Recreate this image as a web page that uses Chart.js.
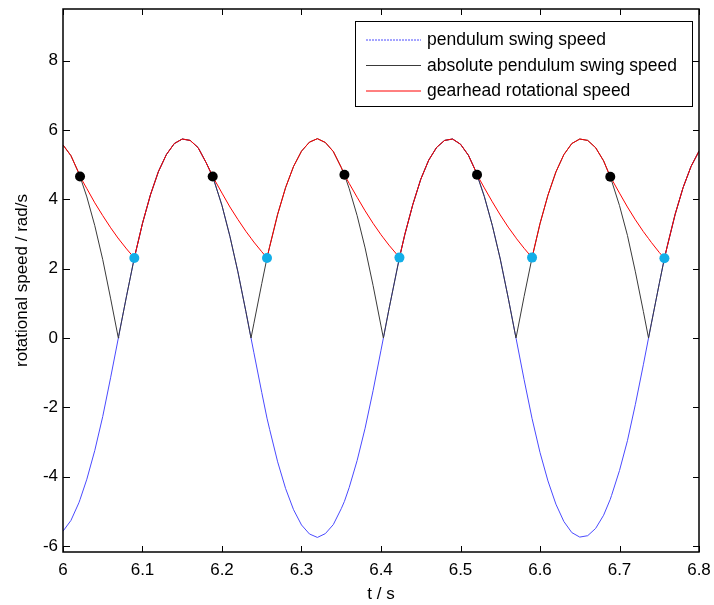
<!DOCTYPE html>
<html>
<head>
<meta charset="utf-8">
<script src="https://cdn.jsdelivr.net/npm/chart.js@4.4.1/dist/chart.umd.min.js"></script>
<style>
    body { margin: 0; background: #fff; }
    #wrap { width: 714px; height: 605px; }
</style>
</head>
<body>
<div id="wrap"><canvas id="chart" width="714" height="605"></canvas></div>
<script>
// waktu sampel (s)
var time = [
    6.00, 6.01, 6.02, 6.0214, 6.03, 6.04, 6.05, 6.06, 6.0696, 6.07, 6.08, 6.0897, 6.09,
    6.10, 6.11, 6.12, 6.13, 6.14, 6.15, 6.16, 6.17, 6.18, 6.1883, 6.19,
    6.20, 6.21, 6.22, 6.23, 6.2365, 6.24, 6.25, 6.2566, 6.26, 6.27, 6.28, 6.29,
    6.30, 6.31, 6.32, 6.33, 6.34, 6.35, 6.354, 6.36, 6.37, 6.38, 6.39,
    6.40, 6.403, 6.41, 6.42, 6.4232, 6.43, 6.44, 6.45, 6.46, 6.47, 6.48, 6.49,
    6.50, 6.51, 6.52, 6.5208, 6.53, 6.54, 6.55, 6.56, 6.5698, 6.57, 6.58, 6.59,
    6.60, 6.61, 6.62, 6.63, 6.64, 6.65, 6.66, 6.67, 6.68, 6.6884, 6.69,
    6.70, 6.71, 6.72, 6.73, 6.7365, 6.74, 6.75, 6.7565, 6.76, 6.77, 6.78, 6.79, 6.80
];

// pendulum swing speed (rad/s)
var swingSpeed = [
    -5.57, -5.26, -4.75, -4.66, -4.07, -3.24, -2.26, -1.13, 0, 0.05, 1.22, 2.31, 2.34,
    3.31, 4.13, 4.80, 5.29, 5.61, 5.74, 5.70, 5.49, 5.06, 4.66, 4.54,
    3.82, 2.93, 1.91, 0.77, 0, -0.41, -1.57, -2.31, -2.64, -3.57, -4.34, -4.95,
    -5.39, -5.65, -5.75, -5.64, -5.38, -4.92, -4.71, -4.31, -3.53, -2.60, -1.52,
    -0.35, 0, 0.83, 1.96, 2.32, 2.99, 3.85, 4.58, 5.13, 5.50, 5.70, 5.74,
    5.59, 5.27, 4.77, 4.71, 4.08, 3.25, 2.28, 1.16, 0, -0.02, -1.20, -2.32,
    -3.30, -4.12, -4.79, -5.29, -5.61, -5.74, -5.70, -5.49, -5.11, -4.65, -4.54,
    -3.82, -2.96, -1.91, -0.77, 0, 0.41, 1.57, 2.30, 2.64, 3.57, 4.34, 4.95, 5.39
];

// gearhead rotational speed (rad/s)
var gearheadSpeed = [
    5.57, 5.26, 4.75, 4.66, 4.31, 3.90, 3.53, 3.18, 2.87, 2.86, 2.57, 2.31, 2.34,
    3.31, 4.13, 4.80, 5.29, 5.61, 5.74, 5.70, 5.49, 5.06, 4.66, 4.59,
    4.18, 3.78, 3.42, 3.08, 2.88, 2.77, 2.49, 2.31, 2.64, 3.57, 4.34, 4.95,
    5.39, 5.65, 5.75, 5.64, 5.38, 4.92, 4.71, 4.46, 4.06, 3.67, 3.31,
    2.98, 2.89, 2.68, 2.41, 2.32, 2.99, 3.85, 4.58, 5.13, 5.50, 5.70, 5.74,
    5.59, 5.27, 4.77, 4.71, 4.33, 3.93, 3.55, 3.20, 2.89, 2.88, 2.59, 2.32,
    3.30, 4.12, 4.79, 5.29, 5.61, 5.74, 5.70, 5.49, 5.11, 4.65, 4.59,
    4.18, 3.78, 3.41, 3.07, 2.87, 2.76, 2.47, 2.30, 2.64, 3.57, 4.34, 4.95, 5.39
];

// titik lepas (hitam) dan titik kopel (biru muda)
var releaseTime = [6.0214, 6.1883, 6.354, 6.5208, 6.6884];
var releaseSpeed = [4.66, 4.66, 4.71, 4.71, 4.65];
var engageTime = [6.0897, 6.2566, 6.4232, 6.59, 6.7565];
var engageSpeed = [2.31, 2.31, 2.32, 2.32, 2.30];

var xTicks = [6, 6.1, 6.2, 6.3, 6.4, 6.5, 6.6, 6.7, 6.8];
var xLabels = ['6', '6.1', '6.2', '6.3', '6.4', '6.5', '6.6', '6.7', '6.8'];
var yTicks = [-6, -4, -2, 0, 2, 4, 6, 8];
var yLabels = ['-6', '-4', '-2', '0', '2', '4', '6', '8'];

var seriesNames = ['pendulum swing speed', 'absolute pendulum swing speed', 'gearhead rotational speed'];
var seriesColors = ['#4a4aff', '#3a3a3a', '#ff0000'];

var FONT = "'Liberation Sans', Arial, sans-serif";

function toPoints(xs, ys) {
    return xs.map(function(x, i) { return { x: x, y: ys[i] }; });
}

// kotak, tick ke dalam, legenda ala matlab
var frame = {
    id: 'frame',
    afterDraw: function(chart) {
        var ctx = chart.ctx;
        var a = chart.chartArea;
        var sx = chart.scales.x;
        var sy = chart.scales.y;
        ctx.save();
        ctx.strokeStyle = '#000';
        ctx.lineWidth = 1;
        ctx.beginPath();
        xTicks.forEach(function(v) {
            var px = Math.round(sx.getPixelForValue(v)) + 0.5;
            ctx.moveTo(px, a.bottom); ctx.lineTo(px, a.bottom - 6);
            ctx.moveTo(px, a.top); ctx.lineTo(px, a.top + 6);
        });
        yTicks.forEach(function(v) {
            var py = Math.round(sy.getPixelForValue(v)) + 0.5;
            ctx.moveTo(a.left, py); ctx.lineTo(a.left + 7, py);
            ctx.moveTo(a.right, py); ctx.lineTo(a.right - 6, py);
        });
        ctx.stroke();

        ctx.lineWidth = 1.5;
        ctx.strokeRect(a.left, a.top, a.right - a.left, a.bottom - a.top);

        // legenda
        var lx = 355, ly = 21, lw = 337, lh = 85;
        ctx.fillStyle = '#fff';
        ctx.fillRect(lx, ly, lw, lh);
        ctx.lineWidth = 1;
        ctx.strokeRect(lx + 0.5, ly + 0.5, lw, lh);
        ctx.font = '17.5px ' + FONT;
        ctx.textBaseline = 'middle';
        ctx.textAlign = 'left';
        var rows = [39.5, 65, 90.5];
        seriesNames.forEach(function(name, i) {
            ctx.strokeStyle = seriesColors[i];
            ctx.setLineDash(i === 0 ? [2, 1] : []);
            ctx.beginPath();
            ctx.moveTo(366, rows[i] + 0.5);
            ctx.lineTo(421, rows[i] + 0.5);
            ctx.stroke();
            ctx.setLineDash([]);
            ctx.fillStyle = '#000';
            ctx.fillText(name, 427, rows[i] + 1);
        });
        ctx.restore();
    }
};

new Chart(document.getElementById('chart'), {
    type: 'line',
    data: {
        datasets: [
            {
                label: seriesNames[0],
                data: toPoints(time, swingSpeed),
                borderColor: seriesColors[0],
                borderWidth: 1,
                pointRadius: 0,
                tension: 0,
                order: 3
            },
            {
                label: seriesNames[1],
                data: toPoints(time, swingSpeed.map(Math.abs)),
                borderColor: seriesColors[1],
                borderWidth: 1,
                pointRadius: 0,
                tension: 0,
                order: 2
            },
            {
                label: seriesNames[2],
                data: toPoints(time, gearheadSpeed),
                borderColor: seriesColors[2],
                borderWidth: 1,
                pointRadius: 0,
                tension: 0,
                order: 1
            },
            {
                label: 'release',
                data: toPoints(releaseTime, releaseSpeed),
                showLine: false,
                pointRadius: 5,
                pointBackgroundColor: '#000',
                pointBorderWidth: 0,
                order: 0
            },
            {
                label: 'engage',
                data: toPoints(engageTime, engageSpeed),
                showLine: false,
                pointRadius: 5,
                pointBackgroundColor: '#12aee8',
                pointBorderWidth: 0,
                order: 0
            }
        ]
    },
    options: {
        responsive: false,
        animation: false,
        layout: { padding: { top: 9, right: 15, left: 0, bottom: 0 } },
        plugins: {
            legend: { display: false },
            tooltip: { enabled: false }
        },
        scales: {
            x: {
                type: 'linear',
                min: 6,
                max: 6.8,
                afterFit: function(s) {
                    s.height = 53;
                    s.paddingLeft = 0;
                    s.paddingRight = 0;
                },
                afterBuildTicks: function(s) { s.ticks = xTicks.map(function(v) { return { value: v }; }); },
                grid: { display: false, drawTicks: false },
                border: { display: false },
                ticks: {
                    padding: 8,
                    color: '#000',
                    font: { family: FONT, size: 17 },
                    maxRotation: 0,
                    callback: function(v) { return xLabels[xTicks.indexOf(v)]; }
                },
                title: {
                    display: true,
                    text: 't / s',
                    color: '#000',
                    font: { family: FONT, size: 17 },
                    padding: { top: 0, bottom: 0 }
                }
            },
            y: {
                min: -6.17,
                max: 9.49,
                afterFit: function(s) {
                    s.width = 63;
                    s.paddingTop = 0;
                    s.paddingBottom = 0;
                },
                afterBuildTicks: function(s) { s.ticks = yTicks.map(function(v) { return { value: v }; }); },
                grid: { display: false, drawTicks: false },
                border: { display: false },
                ticks: {
                    padding: 5,
                    color: '#000',
                    font: { family: FONT, size: 17 },
                    callback: function(v) { return yLabels[yTicks.indexOf(v)]; }
                },
                title: {
                    display: true,
                    text: 'rotational speed / rad/s',
                    color: '#000',
                    font: { family: FONT, size: 17 },
                    padding: { top: 12, bottom: 0 }
                }
            }
        }
    },
    plugins: [frame]
});
</script>
</body>
</html>
